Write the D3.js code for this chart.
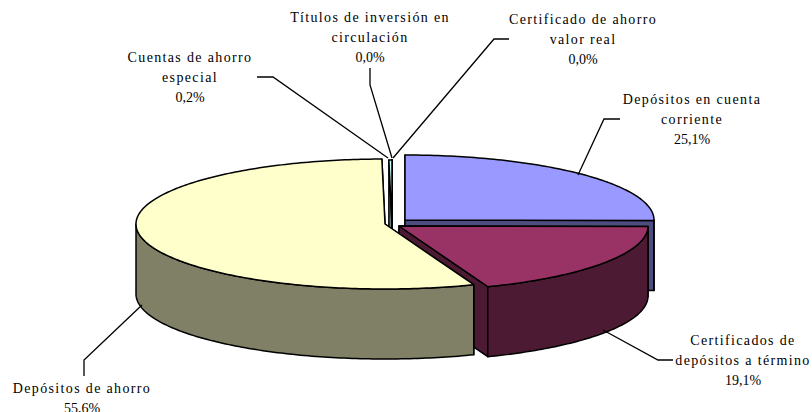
<!DOCTYPE html>
<html>
<head>
<meta charset="utf-8">
<script src="https://cdn.jsdelivr.net/npm/d3@7"></script>
<style>
html, body { margin: 0; padding: 0; background: #fff; }
svg { display: block; }
text { font-family: "Liberation Serif", serif; font-size: 14px; fill: #000; text-anchor: middle; }
.name { letter-spacing: 1.35px; }
</style>
</head>
<body>
<script>
// values, clockwise from 12 o'clock
var names = ['Depósitos en cuenta corriente', 'Certificados de depósitos a término', 'Depósitos de ahorro',
             'Cuentas de ahorro especial', 'Títulos de inversión en circulación', 'Certificado de ahorro valor real'];
var values = [25.1, 19.1, 55.6, 0.2, 0.0, 0.0];
var valueLabels = ['25,1%', '19,1%', '55,6%', '0,2%', '0,0%', '0,0%'];
var topColors = ['#9999ff', '#993366', '#ffffcc', '#ccffff', '#ffffff', '#ffffff'];
var sideColors = ['#4d4d80', '#4d1a33', '#808066', '#668080', '#808080', '#808080'];

var width = 812, height = 412;
var rx = 249, ry = 65, depth = 70;

// exploded slice apex, same order as values
var apex = [[405, 220], [399, 226], [385, 224], [392, 225], [392, 225], [392, 225]];
var drawOrder = [0, 5, 4, 3, 1, 2];

// label lines and leader lines, same order as values
var labelLines = [
  {x: 692, y: 104, lines: ['Depósitos en cuenta', 'corriente']},
  {x: 743, y: 345, lines: ['Certificados de', 'depósitos a término']},
  {x: 82, y: 392.5, lines: ['Depósitos de ahorro']},
  {x: 190, y: 62, lines: ['Cuentas de ahorro', 'especial']},
  {x: 370, y: 22, lines: ['Títulos de inversión en', 'circulación']},
  {x: 583, y: 24, lines: ['Certificado de ahorro', 'valor real']}
];
var leaders = [
  [[620, 119], [604, 119], [578, 175]],
  [[673, 360], [658, 360], [603, 330]],
  [[84, 376], [84, 360], [142, 305]],
  [[257, 77], [273, 77], [388, 158]],
  [[370, 68], [370, 85], [392, 158]],
  [[509, 39], [494, 39], [393, 158]]
];

var svg = d3.select('body').append('svg')
    .attr('width', width)
    .attr('height', height);

var arcs = d3.pie().sort(null)(values);
var x = d3.scaleLinear().domain([-1, 1]).range([-rx, rx]);
var y = d3.scaleLinear().domain([-1, 1]).range([-ry, ry]);
var line = d3.line();

function point(i, a, dz) {
  return [apex[i][0] + x(Math.sin(a)), apex[i][1] - y(Math.cos(a)) + (dz || 0)];
}

function arcPoints(i, a0, a1, dz) {
  var n = Math.max(1, Math.ceil((a1 - a0) * 60));
  return d3.range(n + 1).map(function(k) { return point(i, a0 + (a1 - a0) * k / n, dz); });
}

function shape(g, pts, fill) {
  g.append('path')
    .attr('d', line(pts) + 'Z')
    .attr('fill', fill)
    .attr('stroke', '#000')
    .attr('stroke-width', 1.5)
    .attr('stroke-linejoin', 'round');
}

drawOrder.forEach(function(i) {
  var d = arcs[i];
  var g = svg.append('g').attr('class', 'slice');
  var c = apex[i];

  // cut faces
  [d.startAngle, d.endAngle].forEach(function(a) {
    shape(g, [c, point(i, a), point(i, a, depth), [c[0], c[1] + depth]], sideColors[i]);
  });

  // outer wall, only the part facing the viewer
  var a0 = Math.max(d.startAngle, Math.PI / 2);
  var a1 = Math.min(d.endAngle, Math.PI * 1.5);
  if (a1 > a0) {
    shape(g, arcPoints(i, a0, a1, 0).concat(arcPoints(i, a0, a1, depth).reverse()), sideColors[i]);
  }

  shape(g, [c].concat(arcPoints(i, d.startAngle, d.endAngle, 0)), topColors[i]);
});

leaders.forEach(function(pts) {
  svg.append('path')
    .attr('d', line(pts))
    .attr('fill', 'none')
    .attr('stroke', '#000')
    .attr('stroke-width', 1.3);
});

labelLines.forEach(function(l, i) {
  var t = svg.append('text').attr('aria-label', names[i]);
  l.lines.forEach(function(s, k) {
    t.append('tspan').attr('class', 'name').attr('x', l.x).attr('y', l.y + k * 20).text(s);
  });
  t.append('tspan').attr('x', l.x).attr('y', l.y + l.lines.length * 20).text(valueLabels[i]);
});
</script>
</body>
</html>
